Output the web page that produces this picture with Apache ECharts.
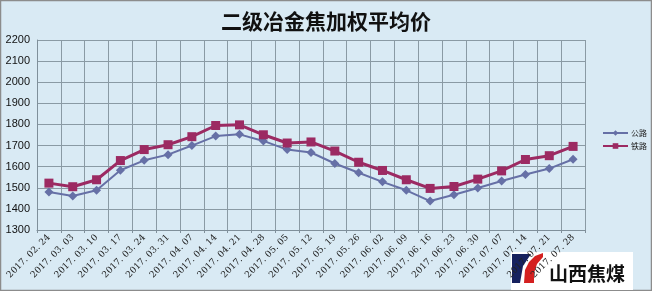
<!DOCTYPE html>
<html>
<head>
<meta charset="utf-8">
<style>
html,body{margin:0;padding:0;background:#d9eaf4;}
#c{width:652px;height:291px;}
</style>
<script src="https://cdn.jsdelivr.net/npm/echarts@6/dist/echarts.min.js"></script>
</head>
<body>
<div id="c"></div>
<script>
var categories = ['2017. 02. 24','2017. 03. 03','2017. 03. 10','2017. 03. 17','2017. 03. 24','2017. 03. 31','2017. 04. 07','2017. 04. 14','2017. 04. 21','2017. 04. 28','2017. 05. 05','2017. 05. 12','2017. 05. 19','2017. 05. 26','2017. 06. 02','2017. 06. 09','2017. 06. 16','2017. 06. 23','2017. 06. 30','2017. 07. 07','2017. 07. 14','2017. 07. 21','2017. 07. 28'];
var roadValues = [1480,1461,1488,1583,1630,1657,1700,1745,1753,1722,1681,1667,1615,1571,1528,1488,1437,1467,1499,1532,1563,1591,1635];
var railValues = [1522,1505,1538,1629,1681,1704,1742,1795,1798,1751,1712,1717,1674,1621,1582,1538,1497,1506,1541,1580,1634,1652,1696];
var seriesNames = ['公路','铁路'];

var chart = echarts.init(document.getElementById('c'), null, {renderer:'canvas'});
chart.setOption({
  backgroundColor:'#d9eaf4',
  animation:false,
  title:{
    text:'二级冶金焦加权平均价',
    left:'center', top:6,
    textStyle:{fontSize:21,fontWeight:'bold',color:'#111',fontFamily:'Noto Sans CJK SC'}
  },
  legend:{
    orient:'vertical', left:597, top:124, itemGap:5,
    itemWidth:25, itemHeight:7,
    textStyle:{fontSize:8,color:'#222',fontFamily:'Noto Sans CJK SC',padding:[0,0,0,-2]},
    data:seriesNames
  },
  grid:{left:37, right:67, top:40, bottom:61, containLabel:false},
  xAxis:{
    type:'category', data:categories, boundaryGap:true,
    axisLine:{lineStyle:{color:'#7f8f9a',width:1}},
    axisTick:{show:true,length:3,lineStyle:{color:'#7f8f9a'}},
    splitLine:{show:true,lineStyle:{color:'#8a9aa4',width:1}},
    axisLabel:{rotate:45,fontSize:9,color:'#222',margin:6,interval:0,fontFamily:'DejaVu Serif'}
  },
  yAxis:{
    type:'value', min:1300, max:2200, interval:100,
    axisLine:{show:true,lineStyle:{color:'#7f8f9a'}},
    axisTick:{show:false},
    splitLine:{show:true,lineStyle:{color:'#8a9aa4',width:1}},
    axisLabel:{fontSize:11,color:'#111',margin:7,fontFamily:'Liberation Sans',formatter:function(v){return String(v);}}
  },
  series:[
    {name:seriesNames[0], type:'line', data:roadValues, symbol:'diamond', symbolSize:9,
     lineStyle:{color:'#6670a6',width:2}, itemStyle:{color:'#6670a6'}},
    {name:seriesNames[1], type:'line', data:railValues, symbol:'rect', symbolSize:9,
     lineStyle:{color:'#9c2a62',width:3}, itemStyle:{color:'#9c2a62'}}
  ],
  graphic:[
    {type:'group', z:150, children:[
      {type:'rect', shape:{x:0.5,y:0.5,width:651,height:290}, style:{fill:'none',stroke:'#8c8c8c',lineWidth:1.5}},
      {type:'rect', shape:{x:511,y:252,width:122,height:38}, style:{fill:'#ffffff'}},
      {type:'polygon', shape:{points:[[512,254],[531,254],[523,266],[520,283],[512,283]]}, style:{fill:'#16215e'}},
      {type:'polygon', shape:{points:[[543,253],[543,257],[537,264],[534,273],[534,283],[524,283],[525,270],[529,262],[535,256]]}, style:{fill:'#d42020'}},
      {type:'text', x:549, y:264, style:{text:'山西焦煤',fontSize:19,fontWeight:'bold',fill:'#111',fontFamily:'Noto Sans CJK SC'}}
    ]}
  ]
});
</script>
</body>
</html>
